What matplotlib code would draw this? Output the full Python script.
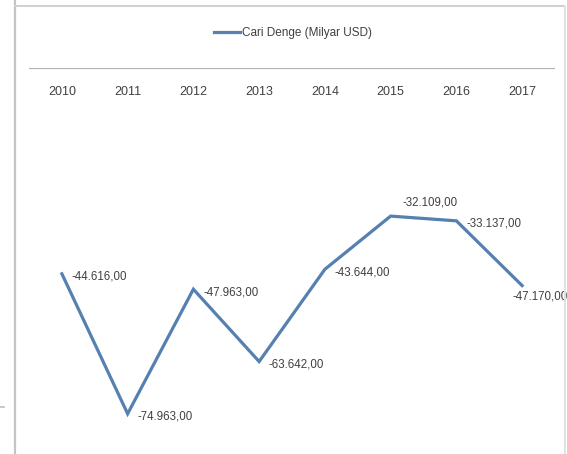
import matplotlib
matplotlib.use("Agg")
import matplotlib.pyplot as plt
from matplotlib.lines import Line2D

plt.rcParams['font.family'] = ['Liberation Sans Narrow', 'Liberation Sans', 'DejaVu Sans']

# Current account balance (billion USD), 2010-2017
years = ["2010", "2011", "2012", "2013", "2014", "2015", "2016", "2017"]
balance = [-44.616, -74.963, -47.963, -63.642, -43.644, -32.109, -33.137, -47.170]
labels = ["-44.616,00", "-74.963,00", "-47.963,00", "-63.642,00",
          "-43.644,00", "-32.109,00", "-33.137,00", "-47.170,00"]
series_name = "Cari Denge (Milyar USD)"

W, H = 567, 454
fig = plt.figure(figsize=(W / 100, H / 100), dpi=100)
fig.patch.set_facecolor("white")

# plot area: zero line near the top, negative values running downward
ax = fig.add_axes([29 / W, (H - 437) / H, (555 - 29) / W, 369 / H])
ax.set_xlim(-0.5, len(years) - 0.5)
ax.set_ylim(-80, 0)
ax.axis("off")

line_color = "#5580b0"
text_color = "#404040"

ax.axhline(0, color="#b4b4b4", lw=1.6, zorder=1)

x = list(range(len(years)))
ax.plot(x, balance, color=line_color, lw=2.3, solid_joinstyle="miter", zorder=3,
        label=series_name)

# category labels sit just under the zero line
for i, yr in enumerate(years):
    ax.annotate(yr, xy=(i, 0), xytext=(0, -17), textcoords="offset points",
                ha="center", va="center", fontsize=9, color=text_color)

# data labels, mostly to the right of each point
offsets = {5: (8.5, 9.5), 7: (-7, -8)}
for i, (v, lab) in enumerate(zip(balance, labels)):
    dx, dy = offsets.get(i, (7, -2))
    ax.annotate(lab, xy=(i, v), xytext=(dx, dy), textcoords="offset points",
                ha="left", va="center", fontsize=8.3, color=text_color)

leg = fig.legend(handles=[Line2D([], [], color=line_color, lw=2.3)],
                 labels=[series_name], loc="center",
                 bbox_to_anchor=(293 / W, 1 - 33 / H), frameon=False,
                 fontsize=8.5, handlelength=2.2, handletextpad=0.25)
for t in leg.get_texts():
    t.set_color(text_color)

# surrounding chart frame and neighbouring panel edge
border = "#cfcfcf"
fig.add_artist(Line2D([15 / W, 15 / W], [0, 1], color="#c4c4c4", lw=1.6))
fig.add_artist(Line2D([15 / W, 565 / W], [1 - 6 / H, 1 - 6 / H], color=border, lw=1.4))
fig.add_artist(Line2D([565 / W, 565 / W], [0, 1 - 6 / H], color="#e2e2e2", lw=1.4))
fig.add_artist(Line2D([0, 4 / W], [1 - 407 / H, 1 - 407 / H], color="#bdbdbd", lw=1.2))

fig.savefig("out.png", dpi=100, facecolor="white")
